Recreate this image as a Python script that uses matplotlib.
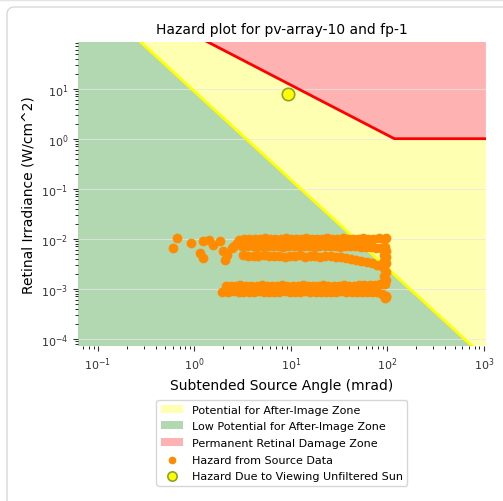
import matplotlib
matplotlib.use('Agg')
import matplotlib.pyplot as plt
from matplotlib.patches import FancyBboxPatch
from matplotlib.lines import Line2D

# axis limits (mrad, W/cm^2)
x_lim = [0.062, 1050]
y_lim = [7.2e-5, 87]

# after-image threshold line (read at the axis edges)
afterimage_x = [0.062, 1050]
afterimage_y = [1200, 4.0e-5]

# retinal burn line with its knee
burn_x = [0.062, 118, 1050]
burn_y = [1900, 1.0, 1.0]

# sun point
sun_x = [9.3]
sun_y = [7.9]

# hazard points from source data, read row by row
row_a_x = [2.9, 3.3, 3.7, 4.2, 4.8, 5.4, 6.1, 6.9, 7.8, 8.8, 10.0, 11.3, 12.8, 14.5, 16.4,
           18.5, 21.0, 23.7, 26.8, 30.3, 34.3, 38.8, 43.9, 49.6, 56.0, 63.4, 71.6, 81.0, 91.6, 97.0]
row_a_y = [0.0095, 0.0099, 0.0097, 0.0100, 0.0098, 0.0101, 0.0097, 0.0100, 0.0099, 0.0101,
           0.0098, 0.0100, 0.0099, 0.0101, 0.0098, 0.0100, 0.0099, 0.0101, 0.0100, 0.0098,
           0.0101, 0.0099, 0.0100, 0.0098, 0.0101, 0.0099, 0.0100, 0.0101, 0.0100, 0.0102]
row_b_x = [2.6, 3.1, 3.5, 4.0, 4.5, 5.1, 5.8, 6.5, 7.4, 8.3, 9.4, 10.7, 12.1, 13.6, 15.4,
           17.4, 19.7, 22.3, 25.2, 28.5, 32.2, 36.4, 41.2, 46.6, 52.7, 59.6, 67.4, 76.2, 86.2, 95.0]
row_b_y = [0.0070, 0.0073, 0.0071, 0.0072, 0.0069, 0.0071, 0.0073, 0.0070, 0.0072, 0.0069,
           0.0071, 0.0073, 0.0070, 0.0072, 0.0071, 0.0069, 0.0072, 0.0070, 0.0073, 0.0071,
           0.0069, 0.0072, 0.0070, 0.0071, 0.0069, 0.0068, 0.0067, 0.0066, 0.0065, 0.0067]
row_c_x = [3.2, 3.6, 4.1, 4.6, 5.2, 5.9, 6.7, 7.6, 8.6, 9.7, 11.0, 12.4, 14.0, 15.8,
           17.9, 20.2, 22.8, 25.8, 29.2, 33.0, 37.3, 42.1, 47.6, 53.8, 60.8, 68.7, 77.6, 87.7]
row_c_y = [0.0047, 0.0045, 0.0046, 0.0045, 0.0047, 0.0045, 0.0046, 0.0045, 0.0044, 0.0046,
           0.0045, 0.0047, 0.0044, 0.0046, 0.0045, 0.0044, 0.0046, 0.0045, 0.0044, 0.0043,
           0.0042, 0.0040, 0.0038, 0.0036, 0.0034, 0.0032, 0.0030, 0.0028]
row_d_x = [2.1, 2.4, 2.7, 3.0, 3.4, 3.9, 4.4, 5.0, 5.6, 6.3, 7.2, 8.1, 9.2, 10.4, 11.7, 13.3,
           15.0, 17.0, 19.2, 21.7, 24.5, 27.7, 31.3, 35.4, 40.0, 45.2, 51.1, 57.8, 65.3, 73.8,
           83.4, 94.3]
row_d_y = [0.00112, 0.00116, 0.00114, 0.00117, 0.00113, 0.00116, 0.00115, 0.00118, 0.00114,
           0.00116, 0.00113, 0.00117, 0.00115, 0.00116, 0.00114, 0.00117, 0.00115, 0.00116,
           0.00113, 0.00117, 0.00115, 0.00116, 0.00114, 0.00117, 0.00116, 0.00115, 0.00117,
           0.00118, 0.00119, 0.00120, 0.00122, 0.00125]
row_e_x = [1.95, 2.25, 2.55, 2.9, 3.2, 3.65, 4.1, 4.7, 5.3, 5.95, 6.7, 7.6, 8.6, 9.8, 11.0,
           12.5, 14.1, 15.9, 18.0, 20.4, 23.0, 26.0, 29.4, 33.2, 37.6, 42.5, 48.0, 54.3, 61.4,
           69.4, 78.4, 88.6, 97.0]
row_e_y = [0.00088, 0.00086, 0.00089, 0.00087, 0.00085, 0.00088, 0.00086, 0.00089, 0.00087,
           0.00088, 0.00086, 0.00087, 0.00089, 0.00086, 0.00088, 0.00087, 0.00089, 0.00086,
           0.00088, 0.00087, 0.00086, 0.00088, 0.00087, 0.00089, 0.00086, 0.00088, 0.00087,
           0.00086, 0.00088, 0.00087, 0.00085, 0.00080, 0.00072]
left_x = [0.66, 0.60, 0.92, 1.22, 1.13, 1.22, 1.55, 1.83, 1.96, 2.06, 2.43, 2.74, 1.40, 2.20]
left_y = [0.0105, 0.0066, 0.0083, 0.0091, 0.0052, 0.0042, 0.0076, 0.0091, 0.0058, 0.0038,
          0.0066, 0.0083, 0.0095, 0.0048]
column_x = [92, 97, 92, 97, 92, 97, 92, 97, 92, 97, 93, 96, 95]
column_y = [0.0062, 0.0058, 0.0048, 0.0044, 0.0036, 0.0032, 0.0026, 0.0022, 0.0018, 0.0015,
            0.0013, 0.00068, 0.00064]

src_x = row_a_x + row_b_x + row_c_x + row_d_x + row_e_x + left_x + column_x
src_y = row_a_y + row_b_y + row_c_y + row_d_y + row_e_y + left_y + column_y

fig = plt.figure(figsize=(5.03, 5.02), dpi=100)
ax = fig.add_axes([0.155, 0.309, 0.811, 0.606])
ax.set_xscale('log')
ax.set_yscale('log')

top = y_lim[1] * 10
bottom = y_lim[0] / 10

# zones
yellow = ax.fill([afterimage_x[0], afterimage_x[1], burn_x[2], burn_x[1], burn_x[0]],
                 [afterimage_y[0], afterimage_y[1], burn_y[2], burn_y[1], burn_y[0]],
                 color='yellow', alpha=0.3, lw=0, label='Potential for After-Image Zone')[0]
green = ax.fill([afterimage_x[0], afterimage_x[1], afterimage_x[1], afterimage_x[0]],
                [afterimage_y[0], afterimage_y[1], bottom, bottom],
                color='green', alpha=0.3, lw=0, label='Low Potential for After-Image Zone')[0]
red = ax.fill(burn_x + [burn_x[2], burn_x[0]], burn_y + [top, top],
              color='red', alpha=0.3, lw=0, label='Permanent Retinal Damage Zone')[0]
ax.plot(afterimage_x, afterimage_y, color='yellow', lw=2)
ax.plot(burn_x, burn_y, color='red', lw=2)

ax.grid(True, axis='y', which='major', color='#e8e8e8', alpha=0.7, lw=0.8)

src = ax.scatter(src_x, src_y, color='darkorange', s=36, zorder=3,
                 label='Hazard from Source Data')
sun = ax.scatter(sun_x, sun_y, color='yellow', edgecolor='#8aa52a', s=80, lw=1.2, zorder=4,
                 label='Hazard Due to Viewing Unfiltered Sun')

ax.set_xlim(x_lim)
ax.set_ylim(y_lim)
for s in ax.spines.values():
    s.set_visible(False)
ax.tick_params(labelsize=8, colors='#333333')

ax.set_title('Hazard plot for pv-array-10 and fp-1', fontsize=10)
ax.set_xlabel('Subtended Source Angle (mrad)', fontsize=10)
ax.set_ylabel('Retinal Irradiance (W/cm^2)', fontsize=10)

ax.legend(handles=[yellow, green, red, src, sun], loc='upper center',
          bbox_to_anchor=(0.5, -0.16), fontsize=8, edgecolor='#cccccc',
          markerscale=0.75, labelspacing=0.6)

# card frame around the figure
fig.add_artist(FancyBboxPatch((7 / 503, -0.1), 1.1, 1.1 - 8 / 502,
                              boxstyle='round,pad=0,rounding_size=0.015',
                              transform=fig.transFigure, fill=False,
                              edgecolor='#d8d8d8', lw=1))
fig.add_artist(Line2D([0, 1], [1 - 1 / 502] * 2, color='#e4e4e4', lw=1))

fig.savefig('out.png', dpi=100)
